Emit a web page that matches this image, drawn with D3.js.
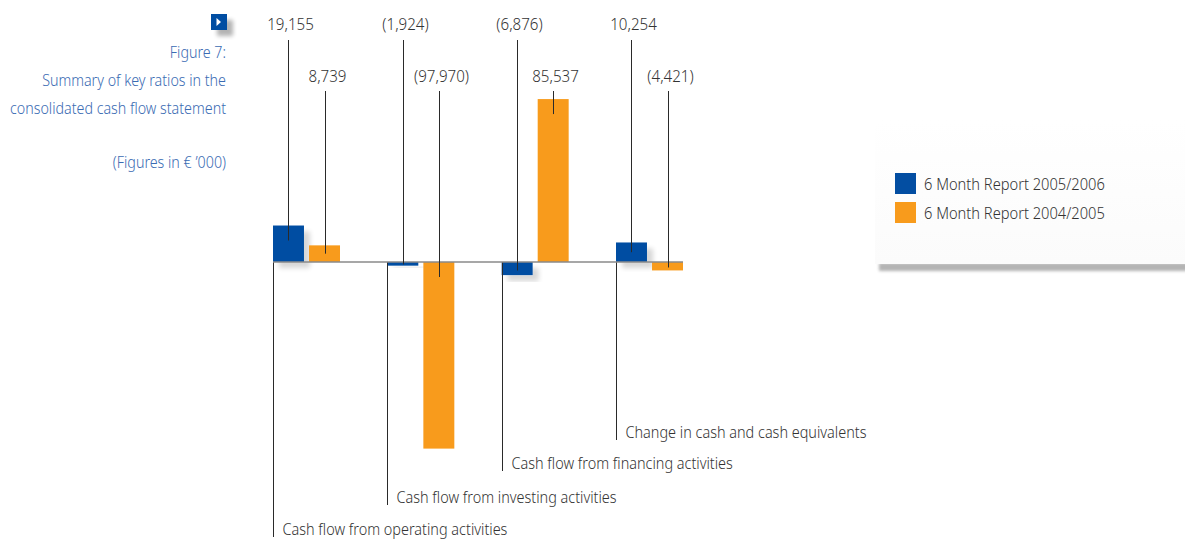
<!DOCTYPE html>
<html>
<head>
<meta charset="utf-8">
<script src="https://cdn.jsdelivr.net/npm/d3@7"></script>
<style>
  html, body { margin: 0; padding: 0; background: #ffffff; }
  svg { display: block; }
  .cond { font-family: "Noto Sans", "Open Sans", "DejaVu Sans", sans-serif; font-stretch: condensed; font-weight: 300; }
</style>
</head>
<body>
<svg id="chart" width="1185" height="539"></svg>
<script>
// Cash flow categories (one group of bars each)
const categories = [
  "Cash flow from operating activities",
  "Cash flow from investing activities",
  "Cash flow from financing activities",
  "Change in cash and cash equivalents"
];
// Reporting periods, in drawing order within a group
const seriesNames = ["6 Month Report 2005/2006", "6 Month Report 2004/2005"];
// Values in € '000
const values0506 = [19155, -1924, -6876, 10254];
const values0405 = [8739, -97970, 85537, -4421];
// Heading text
const titleLines = ["Figure 7:", "Summary of key ratios in the", "consolidated cash flow statement"];
const unitNote = "(Figures in € ’000)";

const colors = ["#034ea2", "#f89b1c"];
const series = [values0506, values0405];

const svg = d3.select("#chart");
const fmt = d3.format(",");
const label = v => v < 0 ? "(" + fmt(-v) + ")" : fmt(v);

// Narrow-set text: draw a label at (x, y) and squeeze it horizontally by sx
function narrowText(g, x, y, str, sx, anchor) {
  return g.append("text")
    .attr("transform", `translate(${x},${y}) scale(${sx},1)`)
    .attr("text-anchor", anchor || "start")
    .text(str);
}
// Horizontal squeeze that gives a sample string its set width
function squeezeFor(g, sample, width) {
  const t = g.append("text").text(sample);
  const w = t.node().getComputedTextLength();
  t.remove();
  return Math.min(1, width / w);
}

// Scales
const x0 = d3.scaleBand().domain(categories).range([273, 683]).paddingInner(0.414).paddingOuter(0);
const x1 = d3.scaleBand().domain(d3.range(seriesNames.length)).range([0, x0.bandwidth()]).paddingInner(0.14).paddingOuter(0);
const y = d3.scaleLinear().domain([-105000, 105000]).range([462, 62]);
const y0 = y(0);

// Filters and gradients
const defs = svg.append("defs");
const sh = defs.append("filter").attr("id", "barShadow")
  .attr("x", "-30%").attr("y", "-30%").attr("width", "180%").attr("height", "180%");
sh.append("feGaussianBlur").attr("in", "SourceAlpha").attr("stdDeviation", 2.6).attr("result", "b");
sh.append("feOffset").attr("in", "b").attr("dx", 6).attr("dy", 6).attr("result", "o");
sh.append("feComponentTransfer").attr("in", "o").attr("result", "s")
  .append("feFuncA").attr("type", "linear").attr("slope", 0.16);
const m = sh.append("feMerge");
m.append("feMergeNode").attr("in", "s");
m.append("feMergeNode").attr("in", "SourceGraphic");

const soft = defs.append("filter").attr("id", "soft")
  .attr("x", "-10%").attr("y", "-100%").attr("width", "120%").attr("height", "300%");
soft.append("feGaussianBlur").attr("stdDeviation", 1.6);

const panelFade = defs.append("linearGradient").attr("id", "panelFade")
  .attr("x1", 0).attr("y1", 0).attr("x2", 0).attr("y2", 1);
panelFade.append("stop").attr("offset", "0%").attr("stop-color", "#ffffff");
panelFade.append("stop").attr("offset", "100%").attr("stop-color", "#fbfbfb");

const iconSh = defs.append("filter").attr("id", "iconShadow")
  .attr("x", "-50%").attr("y", "-50%").attr("width", "220%").attr("height", "220%");
iconSh.append("feGaussianBlur").attr("in", "SourceAlpha").attr("stdDeviation", 2.2).attr("result", "b");
iconSh.append("feOffset").attr("in", "b").attr("dx", 6).attr("dy", 6).attr("result", "o");
iconSh.append("feComponentTransfer").attr("in", "o").attr("result", "s")
  .append("feFuncA").attr("type", "linear").attr("slope", 0.3);
const m2 = iconSh.append("feMerge");
m2.append("feMergeNode").attr("in", "s");
m2.append("feMergeNode").attr("in", "SourceGraphic");

// Heading block, right-aligned
const title = svg.append("g").attr("class", "cond")
  .attr("fill", "#3a6bb3").attr("font-size", 17);
const titleSx = squeezeFor(title, "Summary of key ratios in the", 184);
titleLines.forEach((t, i) => narrowText(title, 226, 58 + i * 28, t, titleSx, "end"));
narrowText(title, 226, 168, unitNote, titleSx, "end");

// Marker icon
const icon = svg.append("g").attr("filter", "url(#iconShadow)");
icon.append("rect").attr("x", 211).attr("y", 14).attr("width", 16).attr("height", 16).attr("fill", "#034ea2");
icon.append("path").attr("d", "M216.5,18 L216.5,26 L221,22 Z").attr("fill", "#ffffff");

// Bars
const barX = (ci, si) => x0(categories[ci]) + x1(si);
series.forEach((vals, si) => {
  svg.append("g")
    .selectAll("rect").data(vals).join("rect")
    .attr("x", (d, i) => barX(i, si))
    .attr("width", x1.bandwidth())
    .attr("y", d => Math.min(y(d), y0))
    .attr("height", d => Math.abs(y(d) - y0))
    .attr("fill", colors[si])
    .attr("filter", si === 0 ? "url(#barShadow)" : null);
});

// Category leader lines and labels
const catBase = [535, 503, 469, 438];
const catG = svg.append("g").attr("class", "cond").attr("font-size", 17).attr("fill", "#333333");
const catSx = squeezeFor(catG, "Cash flow from operating activities", 225);
categories.forEach((c, i) => {
  const lx = Math.round(x0(c)) + 0.5;
  catG.append("line").attr("x1", lx).attr("x2", lx).attr("y1", y0).attr("y2", catBase[i] + 2)
    .attr("stroke", "#2a2a2a").attr("stroke-width", 1);
  narrowText(catG, lx + 9, catBase[i], c, catSx);
});

// Zero line
svg.append("line").attr("x1", 273).attr("x2", 683).attr("y1", y0).attr("y2", y0)
  .attr("stroke", "#8a8a8a").attr("stroke-width", 1.4);

// Value labels with leaders into each bar
const rowBase = [30, 82];
const rowLeadTop = [40, 91];
const valG = svg.append("g").attr("class", "cond").attr("font-size", 17).attr("fill", "#333333");
const valSx = squeezeFor(valG, "(97,970)", 55);
series.forEach((vals, si) => {
  vals.forEach((v, i) => {
    const cx = Math.round(barX(i, si) + x1.bandwidth() / 2) + 0.5;
    const h = Math.abs(y(v) - y0);
    const end = v >= 0 ? y(v) + Math.min(15, h * 0.5) : y0 + Math.min(15, h * 0.65);
    valG.append("line").attr("x1", cx).attr("x2", cx).attr("y1", rowLeadTop[si]).attr("y2", end)
      .attr("stroke", "#2a2a2a").attr("stroke-width", 1);
    narrowText(valG, cx + 2, rowBase[si], label(v), valSx, "middle");
  });
});

// Legend panel
const lg = svg.append("g");
lg.append("rect").attr("x", 879).attr("y", 263).attr("width", 320).attr("height", 8)
  .attr("fill", "#b4b4b4").attr("filter", "url(#soft)");
lg.append("rect").attr("x", 875).attr("y", 120).attr("width", 320).attr("height", 144).attr("fill", "url(#panelFade)");
const lgText = lg.append("g").attr("class", "cond").attr("font-size", 17).attr("fill", "#333333");
const lgSx = squeezeFor(lgText, seriesNames[0], 181);
seriesNames.forEach((s, i) => {
  lg.append("rect").attr("x", 895).attr("y", 173 + i * 29).attr("width", 21).attr("height", 21).attr("fill", colors[i]);
  narrowText(lgText, 924, 190 + i * 29, s, lgSx);
});
</script>
</body>
</html>
